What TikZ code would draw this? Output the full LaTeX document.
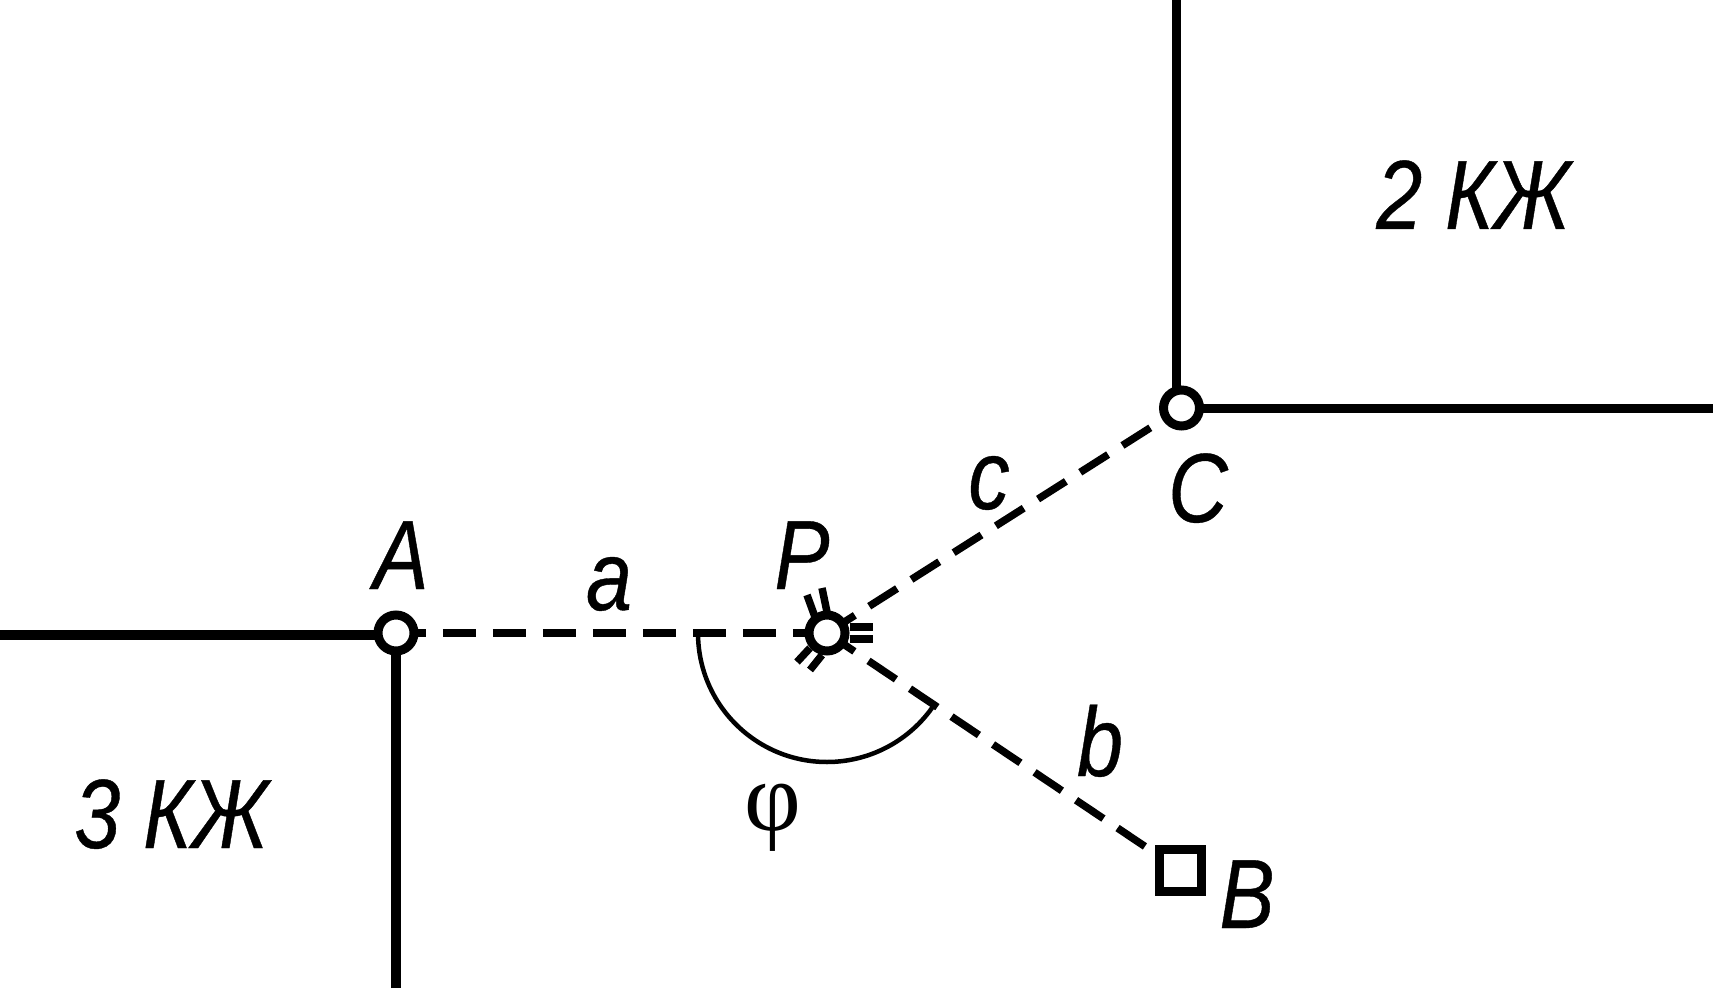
\documentclass[tikz,border=0pt]{standalone}
\usepackage{fontspec}
\setmainfont{Liberation Sans}[FakeStretch=0.84,FakeBold=0.4]
\newfontfamily\phifont{Liberation Serif}
\usetikzlibrary{backgrounds}
\tikzset{
  wall/.style={line width=0.185cm},
  sight/.style={line width=0.15cm, dash pattern=on 0.66cm off 0.34cm},
  tick/.style={line width=0.15cm},
  anglearc/.style={line width=0.09cm},
  station/.style={circle, draw, fill=white, line width=0.18cm, minimum size=0.72cm, inner sep=0pt},
  target/.style={rectangle, draw, fill=white, line width=0.18cm, minimum size=0.84cm, inner sep=0pt},
  lbl/.style={anchor=base, inner sep=0pt, font=\fontsize{56}{60}\selectfont\itshape}
}
\begin{document}
\begin{tikzpicture}[x=0.02cm,y=0.02cm]
  \useasboundingbox (0,0) rectangle (1713,988);

  \begin{scope}[every node/.style={station}]
    \node (A) at (396,355) {};
    \node (P) at (827,355) {};
    \node (C) at (1181.5,580) {};
  \end{scope}
  \node[target] (B) at (1180,118) {};

  \coordinate (wallAw) at (0,353);
  \coordinate (wallAs) at (396,0);
  \coordinate (wallCn) at (1176.5,988);
  \coordinate (wallCe) at (1713,579.5);

  \begin{scope}[on background layer]
    \draw[wall] (wallAw) -- (wallAw -| A);
    \draw[wall] (wallAs) -- (A.center);
    \draw[wall] (wallCn) -- (wallCn |- C);
    \draw[wall] (wallCe) -- (wallCe -| C);
    \draw[sight] (A.center) ++(-3,0) -- (P.center);
    \draw[sight] (P.center) -- (C.center);
    \draw[sight] (P.center) -- (B.center);
  \end{scope}

  % marks round the station
  \foreach \ax/\ay/\bx/\by in {-20/38/-12/16, -5/45/0/21, 23/6/46/6, 23/-6/46/-6, -30/-29/-17/-15, -17/-37/-5/-22}
    \draw[tick] ([shift={(\ax,\ay)}]P.center) -- ([shift={(\bx,\by)}]P.center);

  \draw[anglearc] (P.center) ++(180:129) arc (180:326:129);

  \begin{scope}[every node/.style={lbl}]
    \node (lblA) at (401,399) {A};
    \node (lblP) at (802,399) {P};
    \node (lblC) at (1198,466) {C};
    \node (lblB) at (1247,60) {B};
    \node (lbla) at (609,378) {a};
    \node (lblb) at (1100,212) {b};
    \node (lblc) at (989,479) {c};
    \node (lbl3) at (171,140) {3 КЖ};
    \node (lbl2) at (1473,759) {2 КЖ};
  \end{scope}
  \node[anchor=base, inner sep=0pt, font=\fontsize{56}{60}\selectfont\phifont] (lblphi) at (773,158) {φ};
\end{tikzpicture}
\end{document}
